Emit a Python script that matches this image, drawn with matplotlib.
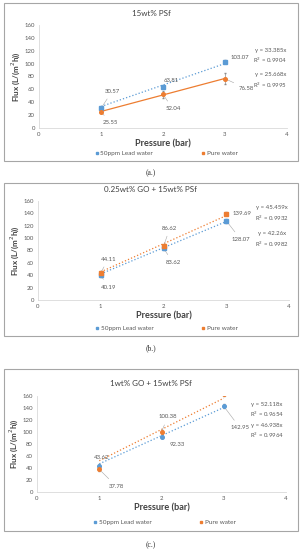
import matplotlib.pyplot as plt
from matplotlib.patches import Rectangle
from matplotlib.lines import Line2D

plt.rcParams['font.family'] = ['Lato', 'DejaVu Sans']

pressure = [1, 2, 3]

titles = ['15wt% PSf', '0.25wt% GO + 15wt% PSf', '1wt% GO + 15wt% PSf']
captions = ['(a.)', '(b.)', '(c.)']

lead_flux = [[30.57, 63.81, 103.07], [40.19, 83.62, 128.07], [43.62, 92.33, 142.95]]
pure_flux = [[25.55, 52.04, 76.58], [44.11, 86.62, 139.69], [37.78, 100.38, 163.7]]
lead_err = [[2, 2, 2], [3, 3, 3], [3, 3, 3]]
pure_err = [[2, 5, 9], [3, 3, 3], [3, 3, 3]]

lead_slope = [33.385, 42.26, 46.938]
pure_slope = [25.668, 45.459, 52.118]
lead_r2 = ['0.9904', '0.9982', '0.9964']
pure_r2 = ['0.9995', '0.9932', '0.9654']

# label positions (data coords) for each point label
lead_lbl_pos = [[(1.18, 57), (2.14, 74), (3.24, 110)],
                [(1.12, 21), (2.15, 61), (3.23, 98)],
                [(1.04, 57), (2.25, 80), (3.26, 107)]]
pure_lbl_pos = [[(1.15, 8), (2.16, 30), (3.35, 61)],
                [(1.12, 66), (2.10, 116), (3.25, 139)],
                [(1.27, 10), (2.10, 125), None]]
lead_eq_pos = [(3.73, 111), (3.73, 97), (3.69, 101)]
pure_eq_pos = [(3.73, 73), (3.73, 139), (3.69, 136)]

markers = [('s', 'o'), ('s', 's'), ('o', 'o')]
pure_ls = ['-', ':', ':']

blue = '#5B9BD5'
orange = '#ED7D31'
grey_txt = '#595959'

fig = plt.figure(figsize=(3.02, 5.50), dpi=100)
H = 550.0
W = 302.0

boxes = [(4, 3, 298, 161), (4, 183, 298, 336), (4, 369, 298, 531)]
axes_px = [(39, 287, 128, 25), (38, 289, 300, 201), (37, 286, 492, 396)]
title_y = [13, 189, 383]
caption_y = [173, 348, 545]
legend_y = [-0.245, -0.29, -0.32]

for i in range(3):
    x0, y0, x1, y1 = boxes[i]
    fig.patches.append(Rectangle((x0 / W, 1 - y1 / H), (x1 - x0) / W, (y1 - y0) / H,
                                 transform=fig.transFigure, fill=False,
                                 edgecolor='#a6a6a6', linewidth=0.8))
    fig.text(0.5, 1 - title_y[i] / H, titles[i], ha='center', va='center',
             fontsize=5.8, color='#404040')
    fig.text(0.5, 1 - caption_y[i] / H, captions[i], ha='center', va='center',
             fontsize=5.5, color='#333333', family='Liberation Serif')

    l, r, b, t = axes_px[i]
    ax = fig.add_axes([l / W, 1 - b / H, (r - l) / W, (b - t) / H])

    ax.errorbar(pressure, lead_flux[i], yerr=lead_err[i], fmt=markers[i][0],
                color=blue, ms=2.6, ecolor='#8c8c8c', elinewidth=0.5, capsize=1, zorder=3)
    ax.errorbar(pressure, pure_flux[i], yerr=pure_err[i], fmt=markers[i][1],
                color=orange, ms=2.6, ecolor='#8c8c8c', elinewidth=0.5, capsize=1, zorder=3)
    ax.plot(pressure, [lead_slope[i] * p for p in pressure], ls=':', color=blue, lw=0.9)
    ax.plot(pressure, [pure_slope[i] * p for p in pressure], ls=pure_ls[i], color=orange, lw=0.9)

    for j in range(3):
        pos = lead_lbl_pos[i][j]
        ax.annotate(f'{lead_flux[i][j]:.2f}', xy=(pressure[j], lead_flux[i][j]), xytext=pos,
                    fontsize=4.3, color=grey_txt, ha='center', va='center',
                    arrowprops=dict(arrowstyle='-', color='#a6a6a6', lw=0.4, shrinkA=2, shrinkB=1))
        pos = pure_lbl_pos[i][j]
        if pos is not None:
            ax.annotate(f'{pure_flux[i][j]:.2f}', xy=(pressure[j], pure_flux[i][j]), xytext=pos,
                        fontsize=4.3, color=grey_txt, ha='center', va='center',
                        arrowprops=dict(arrowstyle='-', color='#a6a6a6', lw=0.4, shrinkA=2, shrinkB=1))

    ax.text(*lead_eq_pos[i], f'y = {lead_slope[i]}x\nR$^2$ = {lead_r2[i]}', fontsize=4.3,
            color=grey_txt, ha='center', va='center', linespacing=1.4)
    ax.text(*pure_eq_pos[i], f'y = {pure_slope[i]}x\nR$^2$ = {pure_r2[i]}', fontsize=4.3,
            color=grey_txt, ha='center', va='center', linespacing=1.4)

    ax.set_xlim(0, 4)
    ax.set_ylim(0, 160)
    ax.set_xticks([0, 1, 2, 3, 4])
    ax.set_yticks(range(0, 161, 20))
    ax.tick_params(labelsize=4.3, colors=grey_txt, length=0, pad=3)
    for s in ['top', 'right']:
        ax.spines[s].set_visible(False)
    for s in ['left', 'bottom']:
        ax.spines[s].set_color('#d9d9d9')
        ax.spines[s].set_linewidth(0.6)
    ax.set_xlabel('Pressure (bar)', fontsize=6.6, color='#404040', fontweight='bold', labelpad=1.5)
    ax.set_ylabel('Flux (L/(m$^2$h))', fontsize=5.8, color='#404040', fontweight='bold', labelpad=2)

    handles = [Line2D([], [], marker='s', ls='none', color=blue, ms=2),
               Line2D([], [], marker='s', ls='none', color=orange, ms=2)]
    ax.legend(handles, ['50ppm Lead water', 'Pure water'], loc='center',
              bbox_to_anchor=(0.51, legend_y[i]), ncol=2,
              frameon=False, fontsize=4.6, labelcolor=grey_txt, columnspacing=7.3,
              handletextpad=0.1, handlelength=1)

fig.savefig('out.png', dpi=100)
